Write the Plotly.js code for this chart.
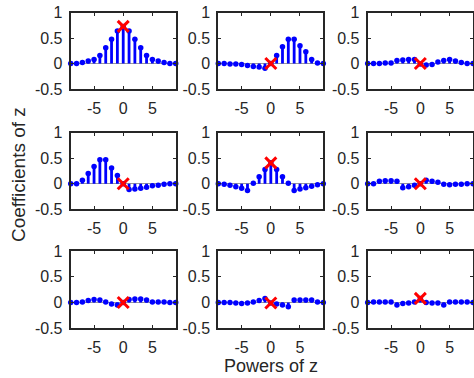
<!DOCTYPE html>
<html><head><meta charset="utf-8">
<script src="https://cdn.plot.ly/plotly-3.0.1.min.js"></script>
<style>html,body{margin:0;padding:0;background:#fff}#plot{width:474px;height:378px}</style>
</head><body><div id="plot"></div>
<script>
// Powers of z (shared by all 9 panels)
const powers = [-9,-8,-7,-6,-5,-4,-3,-2,-1,0,1,2,3,4,5,6,7,8,9];
// Coefficients per panel (row-major)
const coef1 = [0,0,0.02,0.05,0.08,0.16,0.31,0.48,0.64,0.73,0.64,0.48,0.31,0.16,0.08,0.05,0.02,0,0];
const coef2 = [0,0,-0.01,-0.01,-0.02,-0.04,-0.06,-0.07,-0.09,0,0.16,0.33,0.48,0.48,0.35,0.23,0.08,0.01,0];
const coef3 = [0,0,0,0.01,0.01,0.06,0.07,0.08,0.08,-0.01,-0.03,-0.02,0.03,0.06,0.08,0.05,0.02,0,0];
const coef4 = [0,0,0.07,0.2,0.34,0.47,0.47,0.31,0.16,0,-0.11,-0.1,-0.09,-0.07,-0.04,-0.03,-0.01,0,0];
const coef5 = [0,-0.01,-0.03,-0.06,-0.09,-0.13,0.01,0.14,0.28,0.41,0.28,0.14,0.01,-0.13,-0.1,-0.08,-0.05,-0.02,0];
const coef6 = [0,0,0.05,0.06,0.06,0.05,-0.08,-0.06,-0.03,0,0.07,0.05,0.03,-0.01,-0.02,-0.01,-0.01,0,0];
const coef7 = [0,0,0.01,0.04,0.06,0.05,0.01,-0.03,-0.05,0,0.06,0.07,0.07,0.05,0.01,0.01,0.01,0,0];
const coef8 = [0,0,0,-0.01,-0.02,-0.01,0.01,0.04,0.08,-0.01,-0.03,-0.05,-0.08,0.05,0.05,0.05,0.05,0.01,0];
const coef9 = [0,0.01,0.01,0.01,0.01,-0.05,-0.02,-0.01,0.01,0.08,0,-0.01,-0.01,-0.05,0.01,0.01,0.01,0.01,0];
const panels = [coef1,coef2,coef3,coef4,coef5,coef6,coef7,coef8,coef9];
// Red-cross value at power 0 for each panel
const centerVals = [0.73,0,0,0,0.41,0,0,-0.01,0.08];

const xTickVals = [-5,0,5];
const xTickText = ['-5','0','5'];
const yTickVals = [-0.5,0,0.5,1];
const yTickText = ['-0.5','0','0.5','1'];

const colDom = [[0.1492,0.3707],[0.4606,0.6821],[0.7757,0.9979]];
const rowDom = [[0.7646,0.9664],[0.4463,0.6489],[0.1315,0.3360]];

const fam = 'Liberation Sans, Arial, Helvetica, sans-serif';
const font = {family:fam, size:16, color:'#262626'};
const data = [];
const layout = {
  width:474, height:378, margin:{l:0,r:0,t:0,b:0},
  paper_bgcolor:'#fff', plot_bgcolor:'#fff', showlegend:false, font:font,
  annotations:[
    {text:'Coefficients of z', xref:'paper', yref:'paper', x:18/474, y:1-175/378, showarrow:false,
     textangle:-90, font:{family:fam,size:19,color:'#262626'}, xanchor:'center', yanchor:'middle'},
    {text:'Powers of z', xref:'paper', yref:'paper', x:271/474, y:1-366/378, showarrow:false,
     font:{family:fam,size:18,color:'#262626'}, xanchor:'center', yanchor:'middle'}
  ]
};

panels.forEach((vals, i) => {
  const r = Math.floor(i/3), c = i%3;
  const n = i+1;
  const xa = 'x'+(n===1?'':n), ya = 'y'+(n===1?'':n);
  data.push({
    type:'scatter', mode:'markers', x:powers, y:vals, xaxis:xa, yaxis:ya,
    marker:{color:'#0000ff', size:5.5},
    error_y:{type:'data', symmetric:false, width:0, thickness:2.8, color:'#0000ff',
      array: vals.map(v => v<0 ? -v : 0), arrayminus: vals.map(v => v>0 ? v : 0)},
    cliponaxis:false, hoverinfo:'skip'
  });
  data.push({
    type:'scatter', mode:'markers', x:[0], y:[centerVals[i]], xaxis:xa, yaxis:ya,
    marker:{symbol:'x-thin-open', size:11, color:'#ff0000', line:{width:3, color:'#ff0000'}},
    cliponaxis:false, hoverinfo:'skip'
  });
  const axCommon = {showline:true, linecolor:'#262626', linewidth:2, mirror:'allticks',
    ticks:'inside', ticklen:3, tickwidth:1, tickcolor:'#262626', showgrid:false,
    tickfont:font, fixedrange:true};
  layout['xaxis'+(n===1?'':n)] = Object.assign({}, axCommon, {
    domain:colDom[c], range:[-9,9], tickvals:xTickVals, ticktext:xTickText, zeroline:false,
    ticklabelstandoff:4, anchor:ya});
  layout['yaxis'+(n===1?'':n)] = Object.assign({}, axCommon, {
    domain:rowDom[r], range:[-0.5,1], tickvals:yTickVals, ticktext:yTickText,
    zeroline:true, zerolinecolor:'#999999', zerolinewidth:1, ticklabelstandoff:3, anchor:xa});
});

Plotly.newPlot('plot', data, layout, {staticPlot:true});
</script></body></html>
